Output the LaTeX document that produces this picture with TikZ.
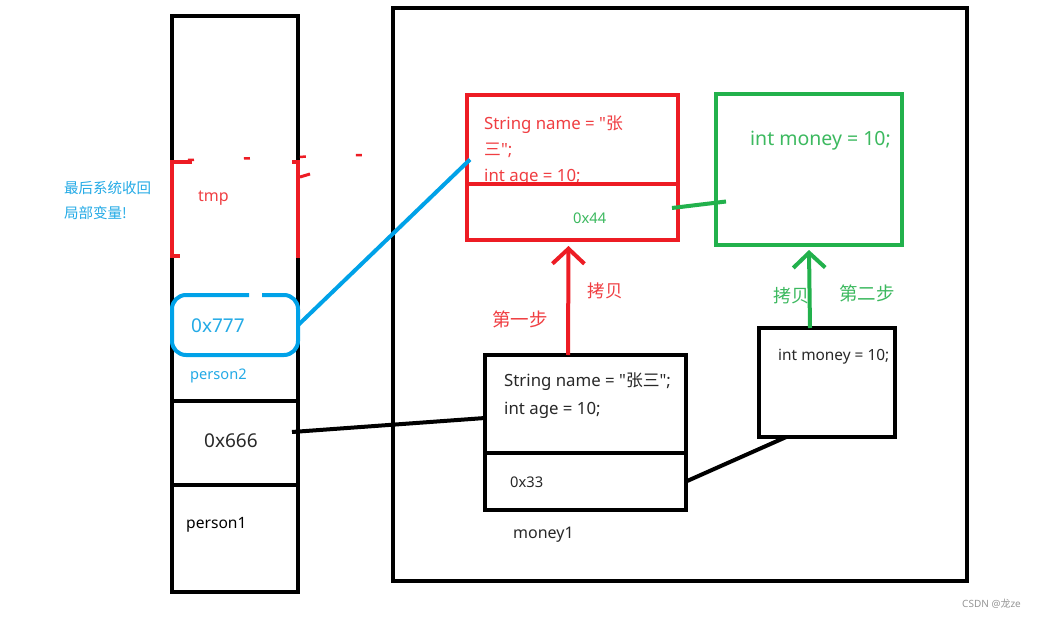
\documentclass[tikz,border=0pt]{standalone}
\usepackage{fontspec}
\newfontfamily\lat{Noto Sans}
\newfontfamily\cjk{Noto Sans CJK SC}
\usetikzlibrary{arrows.meta,calc}
\definecolor{redc}{RGB}{237,28,36}
\definecolor{redt}{RGB}{240,62,66}
\definecolor{greenc}{RGB}{34,177,76}
\definecolor{greent}{RGB}{60,185,95}
\definecolor{bluec}{RGB}{0,162,232}
\definecolor{bluet}{RGB}{35,170,230}
\definecolor{darkt}{RGB}{40,40,40}
\definecolor{wm}{RGB}{150,150,150}
\begin{document}
\begin{tikzpicture}[x=1pt,y=-1pt,
  box/.style={draw, line width=4pt, inner sep=0pt, outer sep=0pt},
  txt/.style={inner sep=0pt, anchor=west, text=darkt},
  fsz/.style={font=\lat\fontsize{#1}{#1}\selectfont},
  csz/.style={font=\cjk\fontsize{#1}{#1}\selectfont},
  arr/.style={line width=4pt, -{Straight Barb[length=15pt,width=32pt]}}
]
\useasboundingbox[fill=white] (0,0) rectangle (1039,618);

% ---------------- stack column ----------------
\node[box, minimum width=126pt, minimum height=576pt] (stack) at (235,304) {};
\node[box, minimum width=126pt, minimum height=84pt] (addr666) at (235,443) {};
\node[txt, fsz=19] (t666) at (204,441) {0x666};
\node[txt, fsz=15.6, text=black] (p1) at (186,525) {person1};

% tmp bracket
\draw[redc, line width=4pt] (192,162) -- (172,162) -- (172,256) -- (180,256);
\draw[redc, line width=4pt] (292,162) -- (298,162) -- (298,258);
\draw[redc, line width=3pt] (300,177) -- (310,174);
\node[txt, fsz=16, text=redt] (tmp) at (198,198) {tmp};
\coordinate (tmpTop) at (188,160);
\coordinate (dashEnd) at (400,154);
\draw[redc, line width=2.5pt, dash pattern=on 6pt off 50pt] (tmpTop) -- (dashEnd);

% note
\node[txt, csz=14.5, text=bluet] (note1) at (64,188) {最后系统收回};
\node[txt, csz=14.5, text=bluet] (note2) at (64,213) {局部变量!};

% 0x777 box with gap
\node[inner sep=0pt, minimum width=126pt, minimum height=60pt] (box777) at (235,325) {};
\draw[bluec, line width=4pt, rounded corners=14pt] (249,295) -| (172,355) -| (298,295) -- (262,295);
\node[txt, fsz=19, text=bluet] (t777) at (191,326) {0x777};
\node[txt, fsz=14.6, text=bluet] (p2) at (190,376) {person2};

% ---------------- heap ----------------
\node[box, minimum width=574pt, minimum height=573pt] (heap) at (680,294.5) {};

% red copied object
\node[txt, fsz=16.8, text=redt] (red1) at (484,125) {String name = "{\cjk 张}};
\node[txt, fsz=16.8, text=redt] (red2) at (484,150) {{\cjk 三}";};
\node[txt, fsz=16.8, text=redt] (red3) at (484,177) {int age = 10;};
\node[box, draw=redc, minimum width=211pt, minimum height=89pt] (redtop) at (572.5,139.5) {};
\node[box, draw=redc, minimum width=211pt, minimum height=56pt] (redbot) at (572.5,212) {};
\node[txt, fsz=14.7, text=greent] (t44) at (573,218) {0x44};

% green object
\node[box, draw=greenc, minimum width=186pt, minimum height=151pt] (greenbox) at (809,169.5) {};
\node[txt, fsz=19.5, text=greent] (gtxt) at (750,141) {int money = 10;};

% original object
\node[box, minimum width=201pt, minimum height=98pt] (btop) at (585.5,404) {};
\node[box, minimum width=201pt, minimum height=57pt] (bbot) at (585.5,481.5) {};
\node[txt, fsz=16.8] (b1) at (504,382) {String name = "{\cjk 张三}";};
\node[txt, fsz=16.8] (b2) at (504,410) {int age = 10;};
\node[txt, fsz=14.7] (t33) at (510,482) {0x33};
\node[txt, fsz=16] (m1) at (513,535) {money1};

% small money object
\node[box, minimum width=136pt, minimum height=109pt] (small) at (827,382.5) {};
\node[txt, fsz=15.4] (stxt) at (778,357) {int money = 10;};

% ---------------- connectors ----------------
\draw[bluec, line width=4pt] (box777.east) -- ($(redtop.west)+(3,20)$);
\draw[line width=4pt] ($(addr666.east)+(-6,-11)$) -- ($(btop.west)+(0,14)$);
\draw[line width=4pt] (bbot.east) -- ($(small.south west)!0.2!(small.south east)$);
\draw[greenc, line width=4pt] ($(redbot.east)+(-6,-4)$) -- ($(greenbox.west)+(10,32)$);

\draw[redc, arr] ($(btop.north west)!0.413!(btop.north east)$) -- ($(redbot.south)+(-4,6)$);
\draw[greenc, arr] ($(small.north west)!0.375!(small.north east)$) -- ($(greenbox.south)+(0,5)$);

\node[csz=17.5, text=redt, inner sep=0pt] (copy1) at (605,291) {拷贝};
\node[csz=18.5, text=redt, inner sep=0pt] (step1) at (520,319) {第一步};
\node[csz=18, text=greent, inner sep=0pt] (copy2) at (791,296) {拷贝};
\node[csz=18.5, text=greent, inner sep=0pt] (step2) at (867,293) {第二步};

\node[text=wm, inner sep=0pt, anchor=west, fsz=10] (wmark) at (962,604) {CSDN @{\cjk 龙}ze};
\end{tikzpicture}
\end{document}
